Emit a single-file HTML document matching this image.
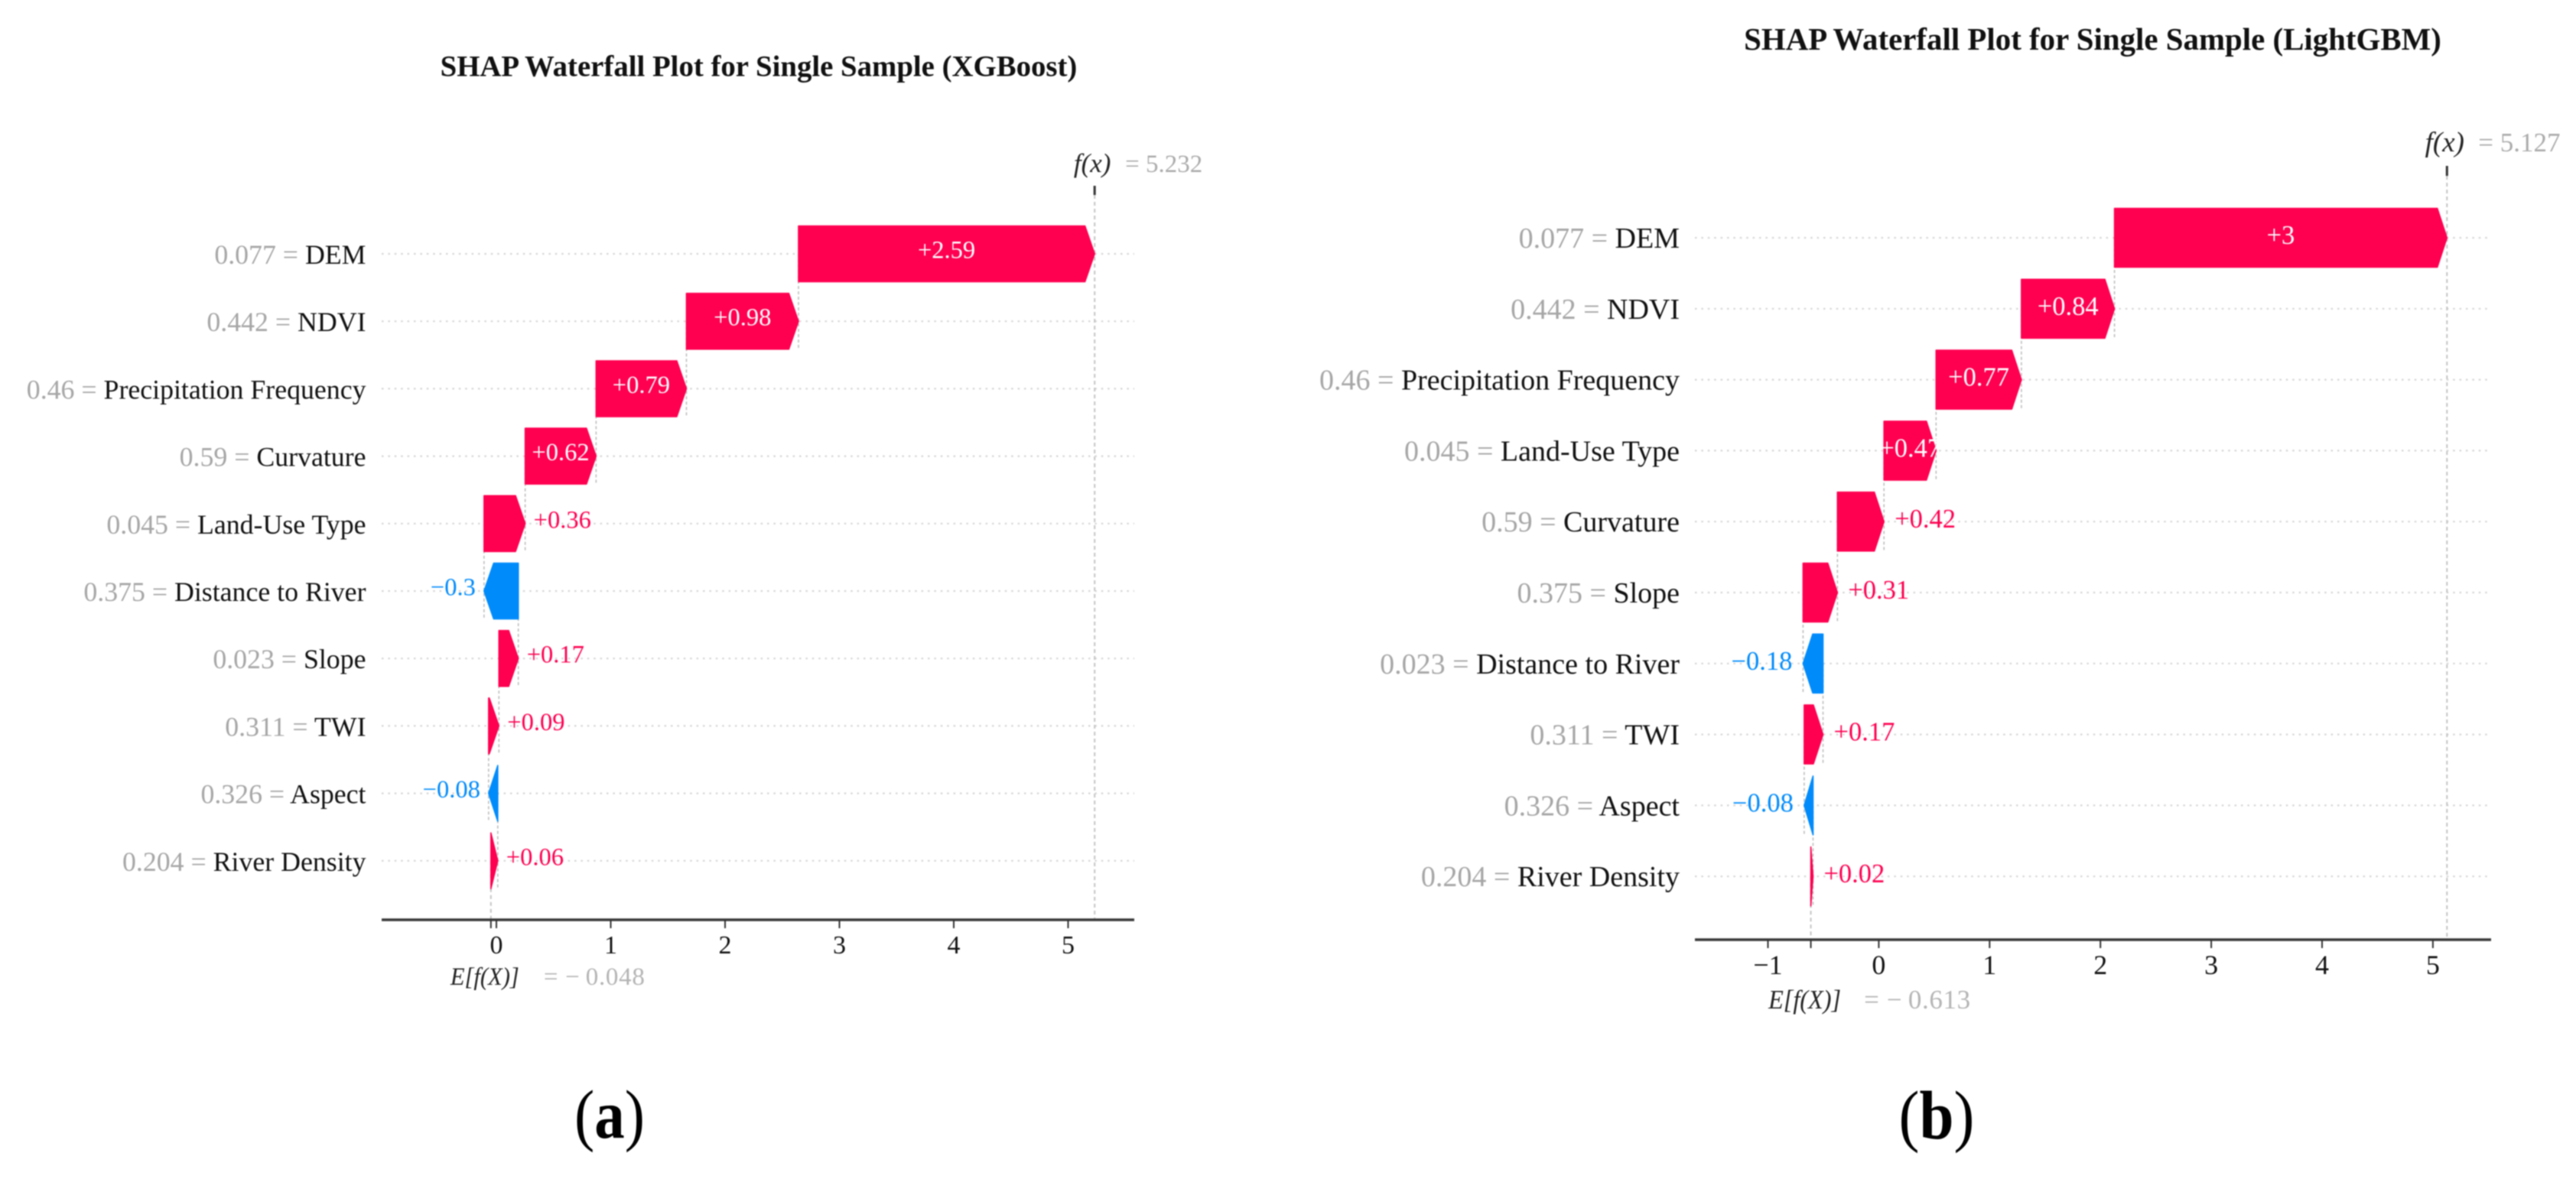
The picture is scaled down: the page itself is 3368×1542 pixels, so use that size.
<!DOCTYPE html>
<html lang="en">
<head>
<meta charset="utf-8">
<title>SHAP Waterfall Plots</title>
<style>
html,body{margin:0;padding:0;background:#fff;}
body{width:3368px;height:1542px;overflow:hidden;}
svg{display:block;filter:blur(0.7px);font-family:"Liberation Serif","Times New Roman",serif;}
</style>
</head>
<body>
<svg id="figure" xmlns="http://www.w3.org/2000/svg" width="3368" height="1542" viewBox="0 0 3368 1542">
  <rect x="0" y="0" width="3368" height="1542" fill="#ffffff"/>
  <g id="panel-a">
    <text x="992" y="99.5" text-anchor="middle" font-size="38.8" font-weight="700" fill="#111">SHAP Waterfall Plot for Single Sample (XGBoost)</text>
    <text x="797" y="1488" text-anchor="middle" font-size="90" fill="#000" textLength="92" lengthAdjust="spacingAndGlyphs">(<tspan font-weight="700">a</tspan>)</text>
  </g>
  <g id="panel-b">
    <text x="2736" y="65" text-anchor="middle" font-size="40.9" font-weight="700" fill="#111">SHAP Waterfall Plot for Single Sample (LightGBM)</text>
    <text x="2532" y="1489" text-anchor="middle" font-size="90" fill="#000" textLength="99" lengthAdjust="spacingAndGlyphs">(<tspan font-weight="700">b</tspan>)</text>
  </g>
</svg>
<script>
// ---- Panel (a) XGBoost data, top row to bottom row ----
const categoriesA = ["DEM","NDVI","Precipitation Frequency","Curvature","Land-Use Type","Distance to River","Slope","TWI","Aspect","River Density"];
const featureValuesA = ["0.077","0.442","0.46","0.59","0.045","0.375","0.023","0.311","0.326","0.204"];
const shapValuesA = [2.59,0.98,0.79,0.62,0.36,-0.3,0.17,0.09,-0.08,0.06];
const baseValueA = -0.048;
const tickLabelsA = [0,1,2,3,4,5];

// ---- Panel (b) LightGBM data, top row to bottom row ----
const categoriesB = ["DEM","NDVI","Precipitation Frequency","Land-Use Type","Curvature","Slope","Distance to River","TWI","Aspect","River Density"];
const featureValuesB = ["0.077","0.442","0.46","0.045","0.59","0.375","0.023","0.311","0.326","0.204"];
const shapValuesB = [3,0.84,0.77,0.47,0.42,0.31,-0.18,0.17,-0.08,0.02];
const baseValueB = -0.613;
const tickLabelsB = [-1,0,1,2,3,4,5];

const RED = "#ff0051";
const BLUE = "#008bfb";
const NS = "http://www.w3.org/2000/svg";

function mk(parent, tag, attrs, txt) {
  const n = document.createElementNS(NS, tag);
  for (const k in attrs) n.setAttribute(k, attrs[k]);
  if (txt !== undefined) n.textContent = txt;
  parent.appendChild(n);
  return n;
}
function fmtSigned(v) { return (v > 0 ? "+" : "\u2212") + Math.abs(v); }
function fmtNum(v) { return (v < 0 ? "\u2212" : "") + Math.abs(v).toString(); }

function drawPanel(g, L, categories, featureValues, shapValues, baseValue, tickLabels) {
  const xScale = v => L.x0 + v * L.unit;
  const yScale = i => L.rowTop + i * L.rowStep;
  const n = categories.length;

  // running totals, accumulated from the bottom row upward
  const starts = new Array(n), ends = new Array(n);
  let run = baseValue;
  for (let i = n - 1; i >= 0; i--) {
    starts[i] = run;
    run += shapValues[i];
    ends[i] = run;
  }
  const fx = run;

  // horizontal row guides
  for (let i = 0; i < n; i++) {
    const el = mk(g, "line", {x1:L.left, x2:L.right, y1:yScale(i), y2:yScale(i), stroke:"#d6d6d6", "stroke-width":2.2, "stroke-dasharray":"2.5 5.9"});
    
    
  }

  // f(x) and E[f(X)] reference lines
  const fxLine = mk(g, "line", {x1:xScale(fx), x2:xScale(fx), y1:L.fxTickBottom, y2:L.axisY, stroke:"#c4c4c4", "stroke-width":2, "stroke-dasharray":"5 4"});
  
  
  const baseLine = mk(g, "line", {x1:xScale(baseValue), x2:xScale(baseValue), y1:yScale(n-1), y2:L.axisY, stroke:"#c4c4c4", "stroke-width":2, "stroke-dasharray":"5 4"});
  
  

  // connectors between consecutive bars
  for (let i = 0; i < n - 1; i++) {
    const c = mk(g, "line", {x1:xScale(starts[i]), x2:xScale(starts[i]), y1:yScale(i), y2:yScale(i+1)+L.barH/2, stroke:"#bdbdbd", "stroke-width":1.6, "stroke-dasharray":"4 3"});
    
    
  }

  // bars with arrow heads
  for (let i = 0; i < n; i++) {
    const a = xScale(starts[i]), b = xScale(ends[i]);
    const dir = b >= a ? 1 : -1;
    const len = Math.abs(b - a);
    const head = Math.min(len, L.head);
    const neck = b - dir * head;
    const y = yScale(i), h = L.barH / 2;
    const color = shapValues[i] >= 0 ? RED : BLUE;
    const pts = [[a,y-h],[neck,y-h],[b,y],[neck,y+h],[a,y+h]].map(p => p[0].toFixed(2)+","+p[1].toFixed(2)).join(" ");
    const bar = mk(g, "polygon", {points:pts, fill:color, stroke:color, "stroke-width":1.6, "stroke-linejoin":"round"});
    
    

    // value label: inside the bar when long enough, else beside the tip
    const inside = len >= L.insideMin;
    const lx = inside ? (a + b) / 2 : b + dir * L.labelGap;
    const anchor = inside ? "middle" : (dir > 0 ? "start" : "end");
    const lab = mk(g, "text", {x:lx, y:y+L.barTextDy, "text-anchor":anchor, "font-size":L.barFont, fill: inside ? "#ffffff" : color}, fmtSigned(shapValues[i]));
    
    

    // feature label
    const t = mk(g, "text", {x:L.labelX, y:y+L.featDy, "text-anchor":"end", "font-size":L.featFont});
    
    
    mk(t, "tspan", {fill:"#a6a6a6"}, featureValues[i] + " = ");
    mk(t, "tspan", {fill:"#111111"}, categories[i]);
  }

  // x axis
  const axis = mk(g, "line", {x1:L.left, x2:L.right, y1:L.axisY, y2:L.axisY, stroke:"#3a3a3a", "stroke-width":3.6});
  
  
  tickLabels.forEach(v => {
    const tk = mk(g, "line", {x1:xScale(v), x2:xScale(v), y1:L.axisY, y2:L.axisY+11, stroke:"#333", "stroke-width":2});
    
    
    const tl = mk(g, "text", {x:xScale(v), y:L.axisY+L.tickDy, "text-anchor":"middle", "font-size":L.tickFont, fill:"#111"}, fmtNum(v));
    
    
  });
  const baseTick = mk(g, "line", {x1:xScale(baseValue), x2:xScale(baseValue), y1:L.axisY, y2:L.axisY+11, stroke:"#333", "stroke-width":2});
  
  

  // f(x) annotation
  const fxTick = mk(g, "line", {x1:xScale(fx), x2:xScale(fx), y1:L.fxTickTop, y2:L.fxTickBottom, stroke:"#333", "stroke-width":3});
  
  
  const fxName = mk(g, "text", {x:xScale(fx)-3, y:L.fxY, "text-anchor":"middle", "font-size":L.fxFont, "font-style":"italic", fill:"#222"}, "f(x)");
  
  
  const fxVal = mk(g, "text", {x:xScale(fx)+L.fxValDx, y:L.fxY, "font-size":L.valueFont, fill:"#ababab"}, "= " + fx.toFixed(3));
  
  

  // E[f(X)] annotation
  const eName = mk(g, "text", {x:xScale(baseValue)-8, y:L.axisY+L.eDy, "text-anchor":"middle", "font-size":L.fxFont-2, "font-style":"italic", fill:"#222", textLength:L.eLen, lengthAdjust:"spacingAndGlyphs"}, "E[f(X)]");
  
  
  const eVal = mk(g, "text", {x:xScale(baseValue)+L.eValDx, y:L.axisY+L.eDy, "font-size":L.valueFont, fill:"#b4b4b4", textLength:L.eValLen, lengthAdjust:"spacing"}, "= \u2212\u2009" + Math.abs(baseValue).toFixed(3));
  
  
}

const layoutA = {x0:649, unit:149.5, rowTop:332, rowStep:88.2, barH:73, head:12.6, axisY:1203, left:499, right:1483,
  labelX:478.5, insideMin:65, labelGap:11, barFont:32.5, barTextDy:5.5, featFont:35.8, featDy:13, tickFont:34, tickDy:44, valueFont:33,
  fxY:225, fxFont:35, fxValDx:40, fxTickTop:243, fxTickBottom:255, eDy:85, eLen:90, eValDx:69, eValLen:132};
const layoutB = {x0:2456.4, unit:144.9, rowTop:311, rowStep:92.8, barH:77, head:12.6, axisY:1229, left:2216, right:3257,
  labelX:2196, insideMin:65, labelGap:14, barFont:34.5, barTextDy:8, featFont:38, featDy:13, tickFont:36, tickDy:45, valueFont:35,
  fxY:198, fxFont:37, fxValDx:41, fxTickTop:217, fxTickBottom:230, eDy:90, eLen:95, eValDx:69.5, eValLen:139};

drawPanel(document.getElementById("panel-a"), layoutA, categoriesA, featureValuesA, shapValuesA, baseValueA, tickLabelsA);
drawPanel(document.getElementById("panel-b"), layoutB, categoriesB, featureValuesB, shapValuesB, baseValueB, tickLabelsB);
</script>
</body>
</html>
